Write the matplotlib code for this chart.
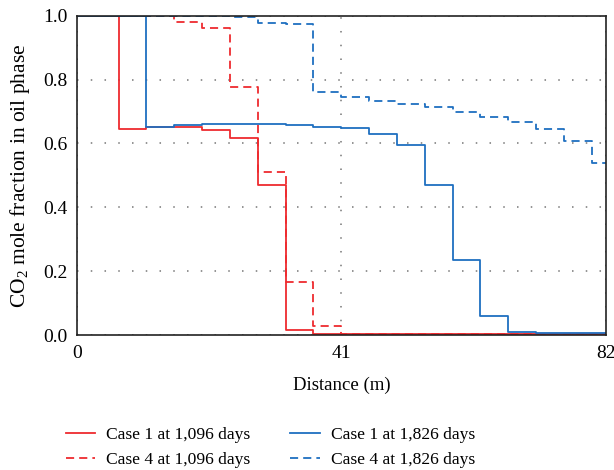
import matplotlib
matplotlib.use("Agg")
import matplotlib.pyplot as plt

# Cell-centre distances (m)
distance = [0.0, 4.3, 8.6, 12.9, 17.3, 21.6, 25.9, 30.2, 34.5, 38.8,
            43.2, 47.5, 51.8, 56.1, 60.4, 64.7, 69.1, 73.4, 77.7, 82.0]

case1_1096 = [1.0, 1.0, 0.645, 0.650, 0.650, 0.642, 0.617, 0.470, 0.016, 0.002,
              0.002, 0.002, 0.002, 0.002, 0.003, 0.003, 0.003, 0.003, 0.004, 0.004]
case4_1096 = [1.0, 1.0, 1.0, 1.0, 0.980, 0.962, 0.778, 0.512, 0.167, 0.028,
              0.003, 0.002, 0.002, 0.002, 0.002, 0.002, 0.002, 0.003, 0.003, 0.003]
case1_1826 = [1.0, 1.0, 1.0, 0.653, 0.658, 0.661, 0.661, 0.661, 0.658, 0.653,
              0.648, 0.631, 0.595, 0.471, 0.235, 0.060, 0.010, 0.005, 0.005, 0.005]
case4_1826 = [1.0, 1.0, 1.0, 1.0, 1.0, 1.0, 0.995, 0.978, 0.975, 0.761,
              0.746, 0.734, 0.722, 0.713, 0.699, 0.683, 0.666, 0.644, 0.608, 0.538]

labels = ["Case 1 at 1,096 days", "Case 4 at 1,096 days",
          "Case 1 at 1,826 days", "Case 4 at 1,826 days"]
x_ticks = [0, 41, 82]
y_ticks = [0.0, 0.2, 0.4, 0.6, 0.8, 1.0]

plt.rcParams['font.family'] = ['Liberation Serif', 'DejaVu Serif']
plt.rcParams['mathtext.fontset'] = 'custom'
plt.rcParams['mathtext.rm'] = 'Liberation Serif'

red = '#ee2b2f'
blue = '#1f6fc0'
dash = (0, (4.5, 2.8))

fig = plt.figure(figsize=(6.14, 4.70), dpi=100)
ax = fig.add_axes([0.1254, 0.2872, 0.8611, 0.6794])

l1, = ax.plot(distance, case1_1096, drawstyle='steps-mid', color=red, lw=1.3)
l2, = ax.plot(distance, case4_1096, drawstyle='steps-mid', color=red, lw=1.3,
              linestyle=dash)
l3, = ax.plot(distance, case1_1826, drawstyle='steps-mid', color=blue, lw=1.3)
l4, = ax.plot(distance, case4_1826, drawstyle='steps-mid', color=blue, lw=1.3,
              linestyle=dash)

ax.set_xlim(0, 82)
ax.set_ylim(0, 1.0)
ax.set_xticks(x_ticks)
ax.set_yticks(y_ticks)
ax.set_yticklabels([f"{v:.1f}" for v in y_ticks])
ax.tick_params(length=0, labelsize=14, pad=7)
ax.grid(True, linestyle=(0, (1, 8)), color='#777777', lw=1.1)
for s in ax.spines.values():
    s.set_linewidth(1.2)
    s.set_color('#222222')

ax.set_xlabel("Distance (m)", fontsize=13.5, labelpad=11)
ax.set_ylabel(r"$\mathregular{CO_2}$ mole fraction in oil phase", fontsize=15.5, labelpad=8)

fig.legend([l1, l2, l3, l4], labels, loc='lower center', ncol=2,
           bbox_to_anchor=(0.44, -0.03), frameon=False, fontsize=12.6,
           handlelength=1.7, columnspacing=2.3, labelspacing=0.5, handletextpad=0.6)

fig.savefig("out.png", dpi=100)
